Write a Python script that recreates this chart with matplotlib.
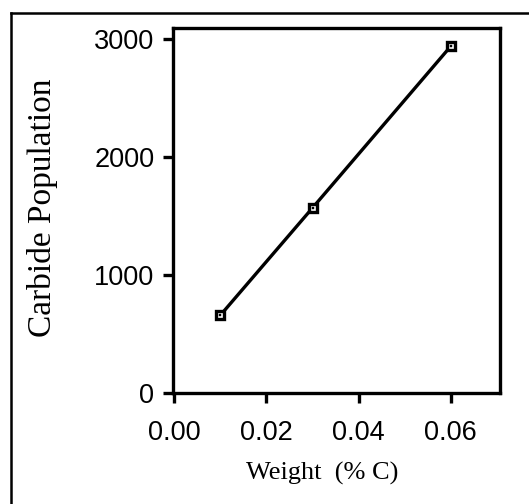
import matplotlib
matplotlib.use("Agg")
import matplotlib.pyplot as plt
from matplotlib.lines import Line2D

weight_pct_c = [0.01, 0.03, 0.06]
carbide_population = [660, 1570, 2940]
x_ticks = [0.00, 0.02, 0.04, 0.06]
x_tick_labels = ["0.00", "0.02", "0.04", "0.06"]
y_ticks = [0, 1000, 2000, 3000]
y_tick_labels = ["0", "1000", "2000", "3000"]

W, H = 529, 504
fig = plt.figure(figsize=(W / 100, H / 100), dpi=100)
ax = fig.add_axes([173 / W, 1 - 393 / H, (500 - 173) / W, (393 - 28) / H])

ax.plot(weight_pct_c, carbide_population, color="black", lw=2.4,
        marker="s", ms=5.8, mfc="white", mec="black", mew=2.4, zorder=3)
ax.plot(weight_pct_c, carbide_population, ls="none", marker="s", ms=1.5,
        mfc="black", mec="black", mew=0.3, zorder=4)

ax.set_xlim(-0.0003, 0.0707)
ax.set_ylim(0, 3095)
ax.set_xticks(x_ticks)
ax.set_xticklabels(x_tick_labels)
ax.set_yticks(y_ticks)
ax.set_yticklabels(y_tick_labels)

for s in ax.spines.values():
    s.set_linewidth(2.4)
ax.tick_params(axis="both", direction="out", length=7.5, width=2.4,
               labelsize=19.5, colors="black")
ax.tick_params(axis="x", pad=12)
ax.tick_params(axis="y", pad=6)
for lab in ax.get_xticklabels() + ax.get_yticklabels():
    lab.set_fontfamily("Liberation Sans")

ax.set_xlabel("Weight  (% C)", fontfamily="Liberation Serif", fontsize=19)
ax.xaxis.set_label_coords((322.5 - 173) / 327, (393 - 473) / 365)
ax.xaxis.label.set_va("center")
ax.set_ylabel("Carbide Population", fontfamily="Liberation Serif", fontsize=24)
ax.yaxis.set_label_coords((43 - 173) / 327, (393 - 207.5) / 365)
ax.yaxis.label.set_va("center")

# outer frame (left and top edges visible)
fig.add_artist(Line2D([11 / W, 11 / W], [0, 1 - 13 / H], transform=fig.transFigure,
                      color="black", lw=1.8))
fig.add_artist(Line2D([11 / W, 1], [1 - 13 / H, 1 - 13 / H], transform=fig.transFigure,
                      color="black", lw=1.8))

fig.savefig("out.png", dpi=100)
